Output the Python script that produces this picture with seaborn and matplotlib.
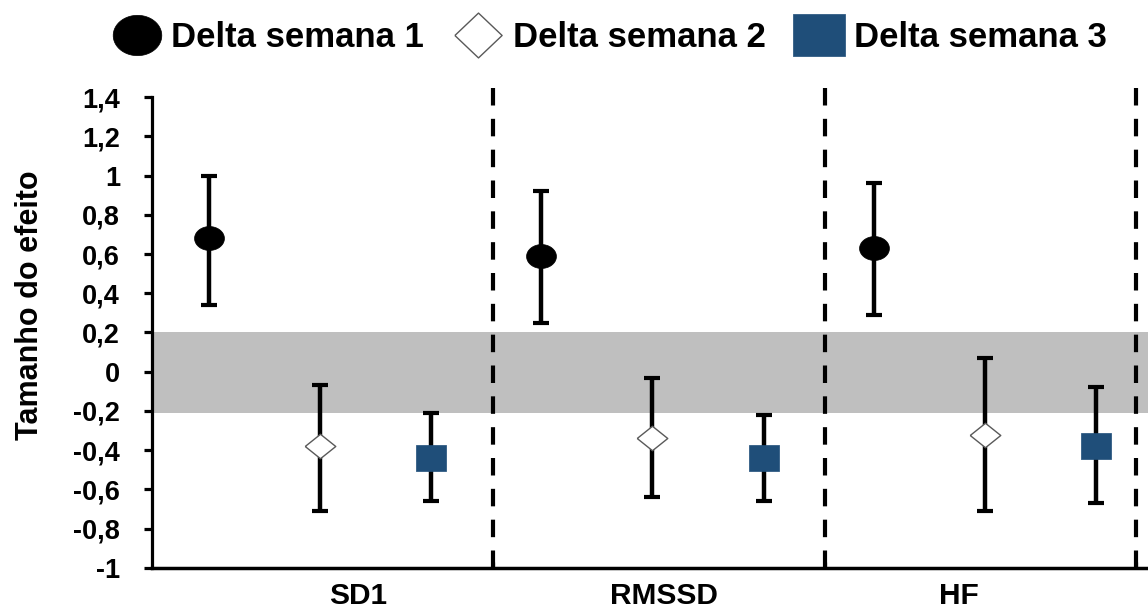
import numpy as np
import pandas as pd
import matplotlib
matplotlib.use("Agg")
import matplotlib.pyplot as plt
from matplotlib.lines import Line2D
import seaborn as sns

# Variables and series
categories = ["SD1", "RMSSD", "HF"]
series = ["Delta semana 1", "Delta semana 2", "Delta semana 3"]

# Effect sizes and interval limits, one list per series (order: SD1, RMSSD, HF)
week1_effect = [0.68, 0.59, 0.63]
week1_low = [0.34, 0.25, 0.29]
week1_high = [1.00, 0.92, 0.96]

week2_effect = [-0.38, -0.34, -0.32]
week2_low = [-0.71, -0.64, -0.71]
week2_high = [-0.07, -0.03, 0.07]

week3_effect = [-0.44, -0.44, -0.38]
week3_low = [-0.66, -0.66, -0.67]
week3_high = [-0.21, -0.22, -0.08]

# Trivial-effect band
band_low, band_high = -0.21, 0.2

y_ticks = [-1, -0.8, -0.6, -0.4, -0.2, 0, 0.2, 0.4, 0.6, 0.8, 1, 1.2, 1.4]
y_tick_labels = ["-1", "-0,8", "-0,6", "-0,4", "-0,2", "0", "0,2", "0,4",
                 "0,6", "0,8", "1", "1,2", "1,4"]

effects = [week1_effect, week2_effect, week3_effect]
lows = [week1_low, week2_low, week3_low]
highs = [week1_high, week2_high, week3_high]

rows = []
for s_name, eff, lo, hi in zip(series, effects, lows, highs):
    for c_name, e, l, h in zip(categories, eff, lo, hi):
        rows.append({"serie": s_name, "var": c_name, "efeito": e, "low": l, "high": h})
df = pd.DataFrame(rows)

# Layout: group centres at 0, 1, 2 with the three weeks side by side
offsets = {series[0]: -0.334, series[1]: 0.0, series[2]: 0.334}
df["x"] = df["var"].map({c: i for i, c in enumerate(categories)}) + df["serie"].map(offsets)

sns.set_theme(style="white")
plt.rcParams["font.family"] = ["Liberation Sans", "DejaVu Sans"]
plt.rcParams["font.weight"] = "bold"
for key in ["text.color", "axes.labelcolor", "xtick.color", "ytick.color"]:
    plt.rcParams[key] = "black"

fig = plt.figure(figsize=(11.48, 6.12), dpi=100)
ax = fig.add_axes([0.1324, 0.0719, 0.8676, 0.7696])
ax.set_xlim(-0.505, 2.49)
ax.set_ylim(-1, 1.4)


def ellipse(ratio):
    t = np.linspace(0, 2 * np.pi, 60)
    return list(zip(np.cos(t), ratio * np.sin(t)))


def diamond(ratio):
    return [(-1, 0), (0, ratio), (1, 0), (0, -ratio), (-1, 0)]


def rect(ratio):
    return [(-1, -ratio), (1, -ratio), (1, ratio), (-1, ratio), (-1, -ratio)]


styles = {
    series[0]: dict(marker=ellipse(0.8), color="black", edgecolor="black", lw=0.5, s=21.5 ** 2),
    series[1]: dict(marker=diamond(0.8), color="white", edgecolor="#595959", lw=1.0, s=22 ** 2),
    series[2]: dict(marker=rect(0.86), color="#1f4e79", edgecolor="#1f4e79", lw=0.5, s=21 ** 2),
}

# Grey band of trivial effects
ax.axhspan(band_low, band_high, color="#bfbfbf", lw=0, zorder=0)

# Dashed separators between variables
for xb in [0.52, 1.519, 2.454]:
    ax.vlines(xb, -1, 1.47, colors="black", lw=3.0, linestyles=(0, (4.2, 3.2)),
              zorder=1, clip_on=False)

# Confidence intervals
for _, r in df.iterrows():
    ax.errorbar(r["x"], r["efeito"],
                yerr=[[r["efeito"] - r["low"]], [r["high"] - r["efeito"]]],
                fmt="none", ecolor="black", elinewidth=3.2, capsize=5.6,
                capthick=3.0, zorder=2)

# Point estimates
for s_name in series:
    st = styles[s_name]
    sns.scatterplot(data=df[df["serie"] == s_name], x="x", y="efeito", ax=ax,
                    marker=st["marker"], color=st["color"], edgecolor=st["edgecolor"],
                    linewidth=st["lw"], s=st["s"], zorder=3, legend=False)

# Axes styling
for side in ["top", "right"]:
    ax.spines[side].set_visible(False)
ax.spines["left"].set_linewidth(2.3)
ax.spines["bottom"].set_linewidth(2.5)
ax.spines["left"].set_color("black")
ax.spines["bottom"].set_color("black")

ax.set_yticks(y_ticks)
ax.set_yticklabels(y_tick_labels, fontsize=19.5, fontweight="bold")
ax.tick_params(axis="y", direction="out", length=6, width=2.3, pad=17, colors="black",
               left=True)

ax.set_xticks([0.52, 1.519, 2.454])
ax.set_xticklabels([])
ax.tick_params(axis="x", which="major", direction="in", length=4, width=2.3, bottom=True)
ax.set_xticks([0.114, 1.035, 1.92], minor=True)
ax.set_xticklabels(categories, minor=True, fontsize=21.5, fontweight="bold")
ax.tick_params(axis="x", which="minor", length=0, pad=10, colors="black")

ax.set_xlabel("")
ax.set_ylabel("Tamanho do efeito", fontsize=22, fontweight="bold", va="center")
ax.yaxis.set_label_coords(-0.1225, 0.558)

# Legend across the top
handles = [
    Line2D([], [], ls="none", marker=ellipse(0.83), ms=35, mfc="black", mec="black", mew=0.5),
    Line2D([], [], ls="none", marker=diamond(0.95), ms=34, mfc="white", mec="#595959", mew=1.0),
    Line2D([], [], ls="none", marker=rect(0.81), ms=38, mfc="#1f4e79", mec="#1f4e79", mew=0.5),
]
fig.legend(handles, series, loc="center", bbox_to_anchor=(0.531, 0.938), ncol=3,
           frameon=False, prop={"size": 25, "weight": "bold"},
           handlelength=1.4, handletextpad=0.3, columnspacing=0.85)

fig.savefig("out.png", dpi=100, facecolor="white")
